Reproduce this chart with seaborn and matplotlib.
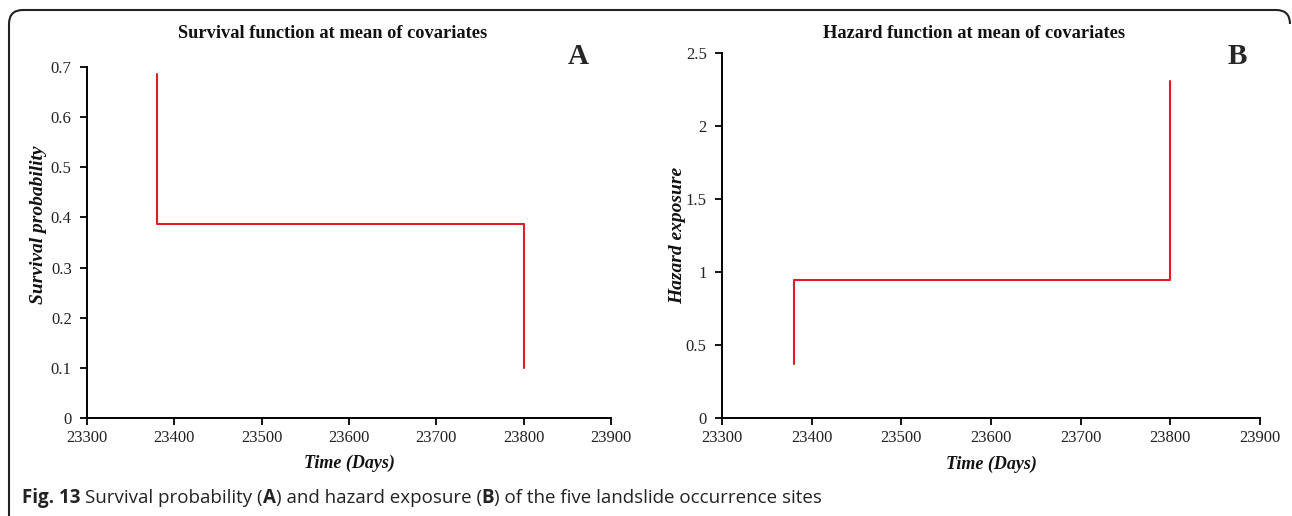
import numpy as np
import pandas as pd
import matplotlib
matplotlib.use("Agg")
import matplotlib.pyplot as plt
import seaborn as sns
from matplotlib.path import Path
from matplotlib.patches import PathPatch

# ---- data ----
event_times = [23380, 23800]
survival_levels = [0.687, 0.386, 0.1]
hazard_levels = [0.37, 0.945, 2.31]
x_ticks = [23300, 23400, 23500, 23600, 23700, 23800, 23900]
surv_yticks = [0, 0.1, 0.2, 0.3, 0.4, 0.5, 0.6, 0.7]
haz_yticks = [0, 0.5, 1, 1.5, 2, 2.5]
haz_yticklabels = ["0", "0.5", "1", "1.5", "2", "2.5"]


def step_frame(times, levels):
    # vertical jumps at each event time, flat between events
    xs, ys = [], []
    for i, t in enumerate(times):
        xs += [t, t]
        ys += [levels[i], levels[i + 1]]
    return pd.DataFrame({"time": xs, "value": ys})


sns.set_theme(style="white")
plt.rcParams["font.family"] = ["Liberation Serif", "DejaVu Serif"]

fig = plt.figure(figsize=(12.92, 5.16), dpi=100)
W, H = 1292, 516

def ax_rect(x0, x1, ytop, ybot):
    return [x0 / W, 1 - ybot / H, (x1 - x0) / W, (ybot - ytop) / H]

axA = fig.add_axes(ax_rect(87, 611, 67, 418))
axB = fig.add_axes(ax_rect(722, 1260, 53, 418))

red = "#e31b23"
tick_fs = 12

for ax, df, ylim, yticks, ylabels, ylabel, ylab_xy in [
    (axA, step_frame(event_times, survival_levels), (0, 0.7), surv_yticks,
     [("%g" % v) for v in surv_yticks], "Survival probability", (-0.092, 0.55)),
    (axB, step_frame(event_times, hazard_levels), (0, 2.5), haz_yticks,
     haz_yticklabels, "Hazard exposure", (-0.082, 0.5)),
]:
    sns.lineplot(data=df, x="time", y="value", ax=ax, sort=False,
                 estimator=None, color=red, linewidth=1.5)
    ax.set_xlim(23300, 23900)
    ax.set_ylim(*ylim)
    ax.set_xticks(x_ticks)
    ax.set_xticklabels([str(t) for t in x_ticks], fontsize=tick_fs)
    ax.set_yticks(yticks)
    ax.set_yticklabels(ylabels, fontsize=tick_fs)
    ax.tick_params(axis="both", direction="out", length=5, width=1.3,
                   color="black", labelcolor="#222222",
                   bottom=True, left=True)
    ax.tick_params(axis="x", pad=4)
    ax.tick_params(axis="y", pad=6)
    for s in ["top", "right"]:
        ax.spines[s].set_visible(False)
    for s in ["left", "bottom"]:
        ax.spines[s].set_color("black")
        ax.spines[s].set_linewidth(1.4)
    ax.set_xlabel("Time (Days)", fontsize=13, fontweight="bold",
                  fontstyle="italic", color="#111111")
    ax.set_ylabel(ylabel, fontsize=14, fontweight="bold", fontstyle="italic",
                  color="#111111")
    ax.xaxis.set_label_coords(0.5, -0.128)
    ax.yaxis.set_label_coords(*ylab_xy)
    ax.yaxis.label.set_va("center")
    ax.xaxis.label.set_va("center")
    ax.grid(False)
    ax.set_facecolor("white")

# titles and panel letters in figure pixel positions
fig.text(333 / W, 1 - 34 / H, "Survival function at mean of covariates",
         ha="center", va="center", fontsize=13.2, fontweight="bold",
         color="#111111")
fig.text(974 / W, 1 - 34 / H, "Hazard function at mean of covariates",
         ha="center", va="center", fontsize=13.2, fontweight="bold",
         color="#111111")
fig.text(578 / W, 1 - 56 / H, "A", ha="center", va="center", fontsize=21,
         fontweight="bold")
fig.text(1237 / W, 1 - 56 / H, "B", ha="center", va="center", fontsize=21,
         fontweight="bold")

# caption, composed piecewise (bold figure number and panel letters)
fig.canvas.draw()
renderer = fig.canvas.get_renderer()
pieces = [("Fig. 13 ", "bold"), ("Survival probability (", "normal"),
          ("A", "bold"), (") and hazard exposure (", "normal"), ("B", "bold"),
          (") of the five landslide occurrence sites", "normal")]
x = 22
for txt, wt in pieces:
    t = fig.text(x / W, 1 - 498 / H, txt, ha="left", va="center",
                 fontsize=13.5, fontweight=wt, family="Open Sans",
                 color="#222222")
    x = t.get_window_extent(renderer).x1

# rounded frame (top and left edges)
r = 14
top, left, right = 10, 9, 1290
verts = [(left, H), (left, top + r), (left, top), (left + r, top),
         (right - r, top), (right, top), (right, top + r)]
codes = [Path.MOVETO, Path.LINETO, Path.CURVE3, Path.CURVE3,
         Path.LINETO, Path.CURVE3, Path.CURVE3]
verts_fig = [(vx / W, 1 - vy / H) for vx, vy in verts]
fig.patches.append(PathPatch(Path(verts_fig, codes), transform=fig.transFigure,
                             fill=False, edgecolor="#222222", linewidth=1.5))

fig.savefig("out.png", dpi=100, facecolor="white")
